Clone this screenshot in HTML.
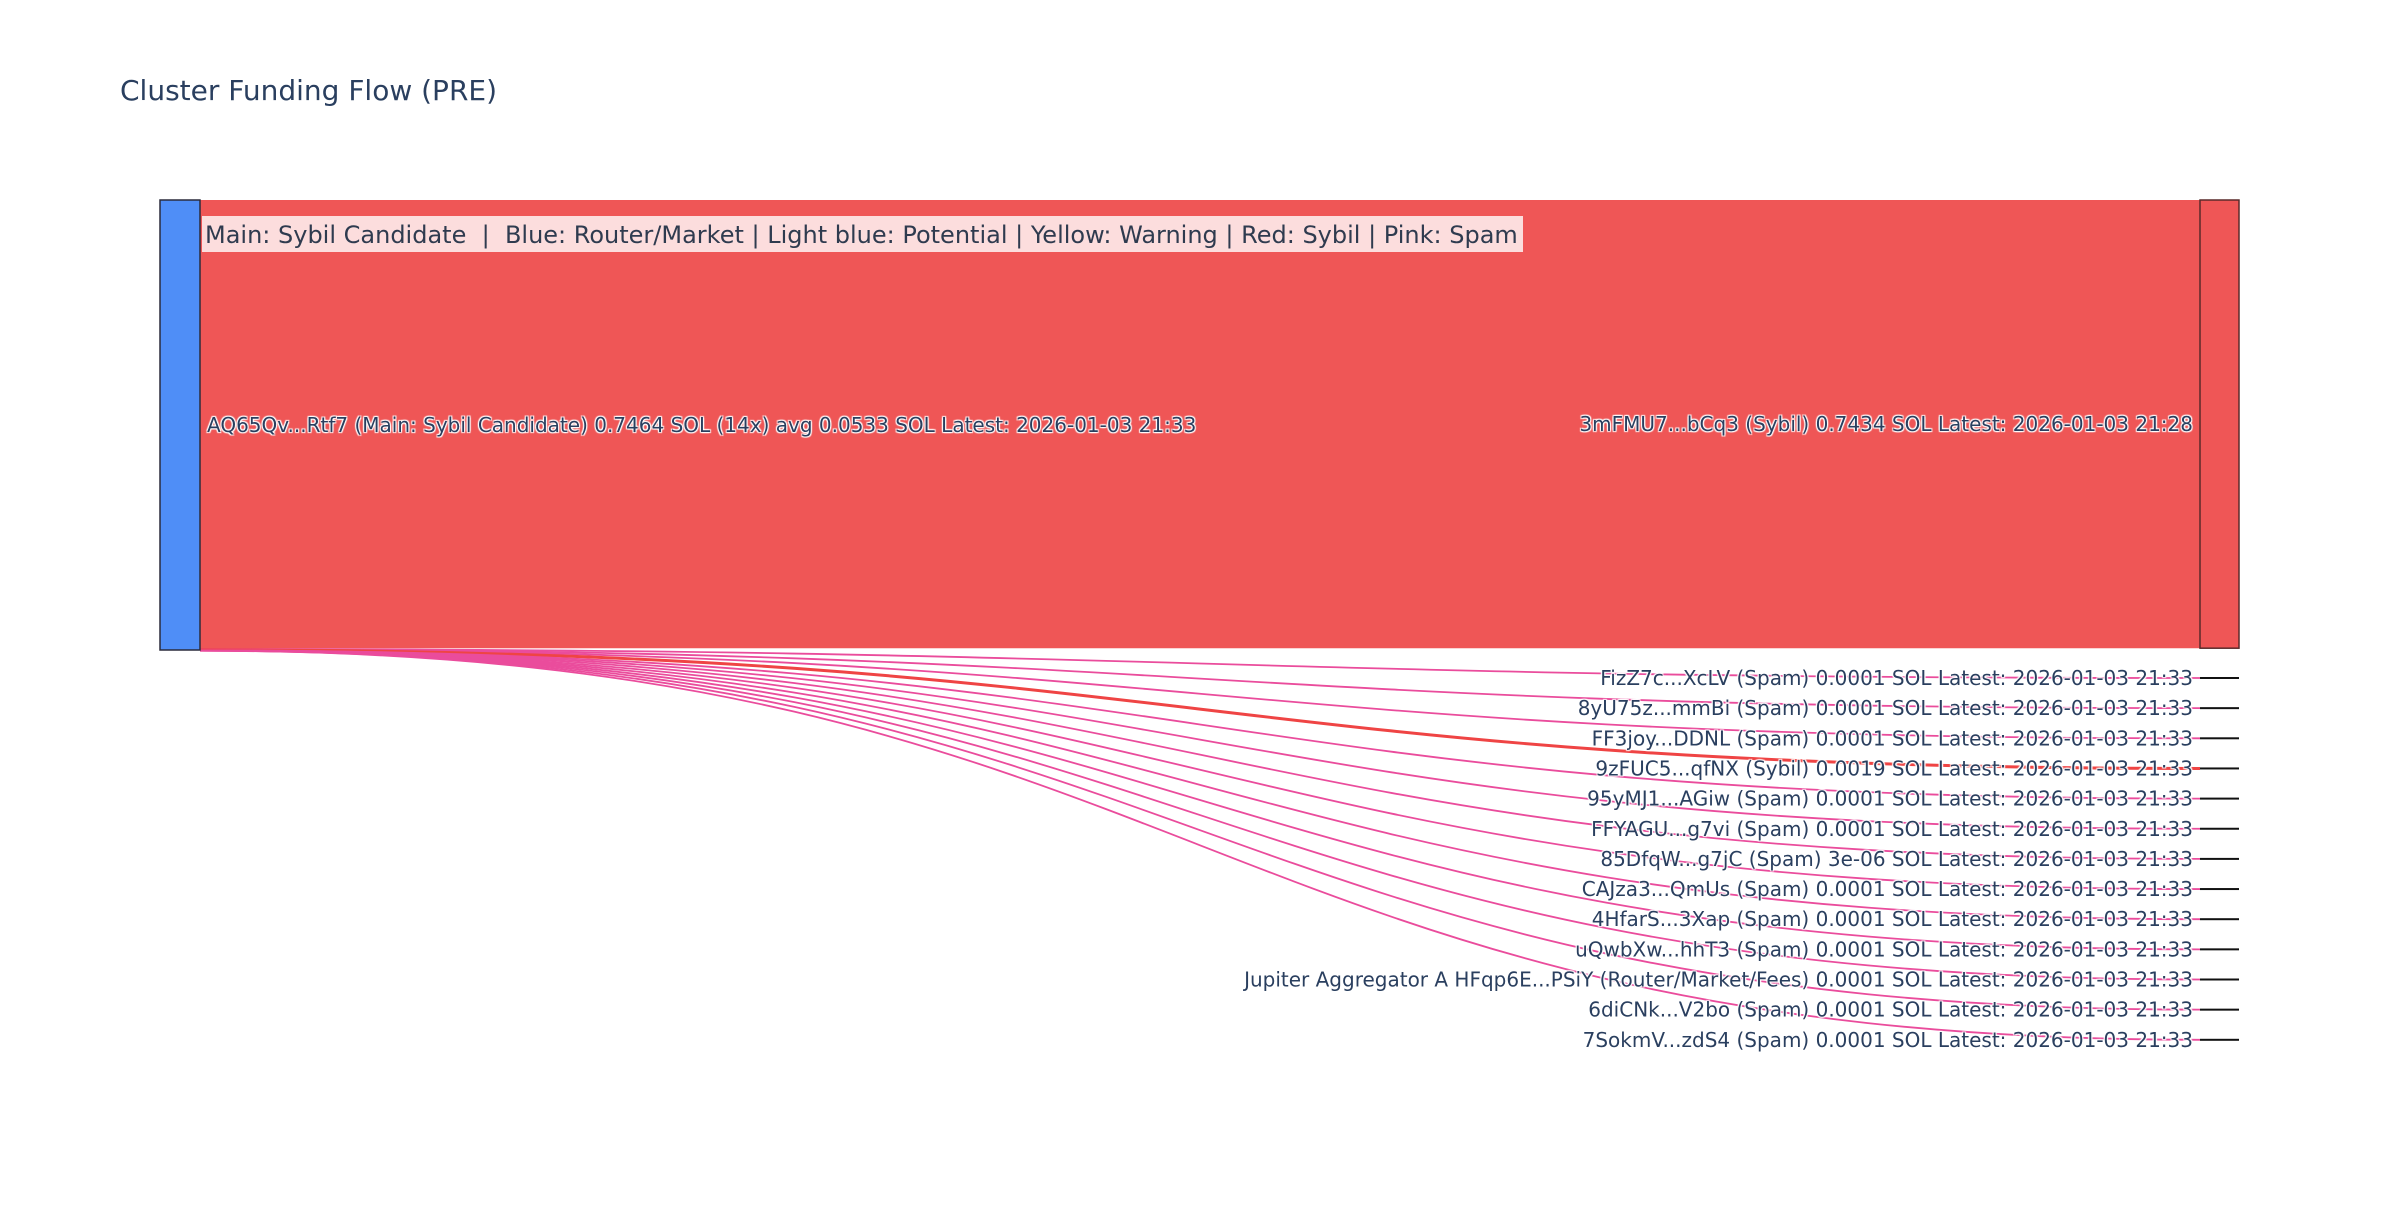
<!DOCTYPE html>
<html><head><meta charset="utf-8">
<style>
html,body{margin:0;padding:0;background:#fff;}
svg text{font-family:"DejaVu Sans","Liberation Sans",sans-serif;}
.lbl{fill:#2a3f5f;font-size:20px;text-shadow:1px 1px 1px #fff,-1px -1px 1px #fff,1px -1px 1px #fff,-1px 1px 1px #fff;}
</style></head>
<body>
<svg id="chart" width="2400" height="1200" viewBox="0 0 2400 1200" xmlns="http://www.w3.org/2000/svg">
<rect x="0" y="0" width="2400" height="1200" fill="#fff"/>
<text x="120" y="100" font-size="28" fill="#2a3f5f">Cluster Funding Flow (PRE)</text>
<g id="links"></g>
<g id="nodes"></g>
<g id="labels"></g>
<rect x="202" y="216" width="1321" height="36" fill="#fff" fill-opacity="0.8"/>
<text x="205" y="243" font-size="24" fill="#2f3b4f" xml:space="preserve">Main: Sybil Candidate  |  Blue: Router/Market | Light blue: Potential | Yellow: Warning | Red: Sybil | Pink: Spam</text>
</svg>
<script>
const sourceLabel = "AQ65Qv...Rtf7 (Main: Sybil Candidate) 0.7464 SOL (14x) avg 0.0533 SOL Latest: 2026-01-03 21:33";
const mainTargetLabel = "3mFMU7...bCq3 (Sybil) 0.7434 SOL Latest: 2026-01-03 21:28";
const mainValue = 0.7434;
const targetNames = ["FizZ7c...XcLV (Spam)","8yU75z...mmBi (Spam)","FF3joy...DDNL (Spam)","9zFUC5...qfNX (Sybil)","95yMJ1...AGiw (Spam)","FFYAGU...g7vi (Spam)","85DfqW...g7jC (Spam)","CAJza3...QmUs (Spam)","4HfarS...3Xap (Spam)","uQwbXw...hhT3 (Spam)","Jupiter Aggregator A HFqp6E...PSiY (Router/Market/Fees)","6diCNk...V2bo (Spam)","7SokmV...zdS4 (Spam)"];
const targetValues = [0.0001,0.0001,0.0001,0.0019,0.0001,0.0001,0.000003,0.0001,0.0001,0.0001,0.0001,0.0001,0.0001];
const targetValueText = ["0.0001","0.0001","0.0001","0.0019","0.0001","0.0001","3e-06","0.0001","0.0001","0.0001","0.0001","0.0001","0.0001"];
const targetTypes = ["spam","spam","spam","sybil","spam","spam","spam","spam","spam","spam","router","spam","spam"];
const latest = "2026-01-03 21:33";

const NS="http://www.w3.org/2000/svg";
const colors={spam:"#ea4c9c",sybil:"#ef4444",router:"#ea4c9c"};
const leftX0=160,leftX1=200,rightX0=2200,rightX1=2239,topY=200,nodeH=450;
const total = mainValue + targetValues.reduce((a,b)=>a+b,0);
const k = nodeH/total;
const smallY0=678, smallStep=30.15;
function mk(tag,attrs,parent){const e=document.createElementNS(NS,tag);for(const a in attrs)e.setAttribute(a,attrs[a]);parent.appendChild(e);return e;}
const links=document.getElementById('links'),nodes=document.getElementById('nodes'),labels=document.getElementById('labels');

const mh=mainValue*k;
const mainLink=mk('path',{d:`M${leftX1},${topY} C1200,${topY} 1200,${topY} ${rightX0},${topY} L${rightX0},${topY+mh} C1200,${topY+mh} 1200,${topY+mh} ${leftX1},${topY+mh} Z`,fill:"#ef5656"},links);



let sy=topY+mh;
targetValues.forEach((v,i)=>{
  const h=v*k;
  const y0=sy+h/2+0.8; sy+=h;
  const y1=smallY0+i*smallStep;
  const p=mk('path',{d:`M${leftX1},${y0} C1200,${y0} 1200,${y1} ${rightX0},${y1}`,fill:"none",stroke:colors[targetTypes[i]],"stroke-width":Math.max(1.8,h*2.6)},links);
  
  
});

const srcNode=mk('rect',{x:leftX0,y:topY,width:leftX1-leftX0,height:nodeH,fill:"#4f8ef7",stroke:"#2b2b3b","stroke-width":1.5},nodes);


const mainNode=mk('rect',{x:rightX0,y:topY,width:rightX1-rightX0,height:mh,fill:"#ef5656",stroke:"#5a2a2a","stroke-width":1.5},nodes);


targetValues.forEach((v,i)=>{
  const y=smallY0+i*smallStep;
  const n=mk('rect',{x:rightX0,y:y-1,width:rightX1-rightX0,height:2,fill:"#111"},nodes);
  
  
  const t=mk('text',{x:2193,y:y+7,"text-anchor":"end",class:"lbl"},labels);
  t.textContent=`${targetNames[i]} ${targetValueText[i]} SOL Latest: ${latest}`;
  
  
});
const sl=mk('text',{x:207,y:topY+nodeH/2+7,class:"lbl"},labels);
sl.textContent=sourceLabel;


const ml=mk('text',{x:2193,y:topY+mh/2+7,"text-anchor":"end",class:"lbl"},labels);
ml.textContent=mainTargetLabel;


</script>
</body></html>
